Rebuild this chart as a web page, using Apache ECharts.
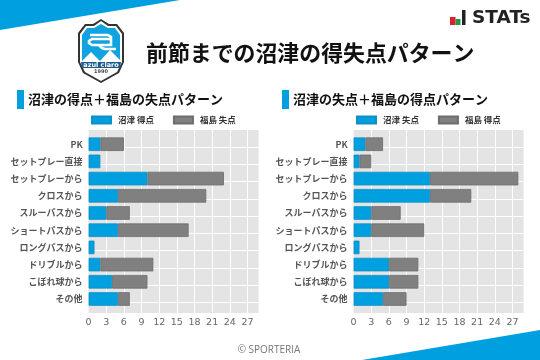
<!DOCTYPE html>
<html>
<head>
<meta charset="utf-8">
<style>
  html, body { margin: 0; padding: 0; background: #fff; }
  #chart { width: 540px; height: 360px; }
</style>
<script src="https://cdn.jsdelivr.net/npm/echarts@6/dist/echarts.min.js"></script>
</head>
<body>
<div id="chart"></div>
<script>
const categories = ['PK', 'セットプレー直接', 'セットプレーから', 'クロスから', 'スルーパスから', 'ショートパスから', 'ロングパスから', 'ドリブルから', 'こぼれ球から', 'その他']
const xTicks = [0, 3, 6, 9, 12, 15, 18, 21, 24, 27]

const numazuScored = [2, 2, 10, 5, 3, 5, 1, 2, 4, 5]
const fukushimaConceded = [4, null, 13, 15, 4, 12, null, 9, 6, 2]
const numazuConceded = [2, 1, 13, 13, 3, 3, 1, 6, 6, 5]
const fukushimaScored = [3, 2, 15, 7, 5, 9, null, 5, 5, 4]

const BLUE = '#009fe0'
const GRAY = '#808080'
const JP = '"Noto Sans CJK JP"'
const X_MAX = 28.9
const panels = [
  {left: 88.6, names: ['沼津 得点', '福島 失点'], values: [numazuScored, fukushimaConceded], legendLeft: 91},
  {left: 353.6, names: ['沼津 失点', '福島 得点'], values: [numazuConceded, fukushimaScored], legendLeft: 356}
]

const grids = [], xAxes = [], yAxes = [], series = [], legends = []

panels.forEach((p, i) => {
  // back grid: grey panel, white lines and the x labels
  grids.push({left: p.left, top: 130, width: 170, height: 183, show: true, backgroundColor: '#e4e4e4', borderWidth: 0})
  // front grid: the ten category bands
  grids.push({left: p.left, top: 135.6, width: 170, height: 172})
  xAxes.push({
    type: 'value', gridIndex: i * 2, min: 0, max: X_MAX, interval: 3,
    axisLine: {show: false}, axisTick: {show: false},
    axisLabel: {
      color: '#666', fontSize: 9.5, fontFamily: '"DejaVu Sans"', margin: 5, hideOverlap: false,
      formatter: v => xTicks.includes(v) ? String(v) : ''
    },
    splitLine: {show: true, showMinLine: false, showMaxLine: false, lineStyle: {color: '#fff', width: 1}}
  })
  xAxes.push({type: 'value', gridIndex: i * 2 + 1, min: 0, max: X_MAX, show: false, splitLine: {show: false}})
  yAxes.push({
    type: 'value', gridIndex: i * 2, min: -0.81, max: 9.81, interval: 1, inverse: true,
    axisLine: {show: false}, axisTick: {show: false}, axisLabel: {show: false},
    splitLine: {show: true, showMinLine: false, showMaxLine: false, lineStyle: {color: '#fff', width: 1}}
  })
  yAxes.push({
    type: 'category', gridIndex: i * 2 + 1, data: categories, inverse: true,
    axisLine: {show: false}, axisTick: {show: false}, splitLine: {show: false},
    axisLabel: {color: '#555', fontSize: 9, fontWeight: 'bold', fontFamily: JP, margin: 6, interval: 0, padding: [2, 0, 0, 0]}
  })
  p.names.forEach((name, k) => {
    series.push({
      name, type: 'bar', stack: 'p' + i, barWidth: 13.6,
      xAxisIndex: i * 2 + 1, yAxisIndex: i * 2 + 1,
      data: p.values[k],
      itemStyle: {color: k ? GRAY : BLUE, borderColor: k ? '#6c6c6c' : '#0f8fc4', borderWidth: 0.8}
    })
  })
  legends.push({
    left: p.legendLeft, top: 115.5, itemWidth: 19, itemHeight: 7, itemGap: 19, padding: 0,
    icon: 'rect', data: p.names,
    textStyle: {color: '#333', fontSize: 8.5, fontWeight: 'bold', fontFamily: JP, padding: [0, 0, 0, 2]}
  })
})

function subtitle(x, text) {
  return [
    {type: 'rect', shape: {x, y: 90, width: 7, height: 19}, style: {fill: BLUE}},
    {type: 'text', style: {x: x + 11, y: 99.5, text, fill: '#111', font: 'bold 13px ' + JP, textVerticalAlign: 'middle'}}
  ]
}

const logo = [
  {type: 'polygon', shape: {points: [[101,19],[109,24],[117,24],[124,33],[124,62],[119,73],[101,83],[83,73],[78,62],[78,33],[85,24],[93,24]]}, style: {fill: '#333'}},
  {type: 'polygon', shape: {points: [[101,21],[108,26],[116,26],[122,34],[122,62],[117,72],[101,81],[85,72],[80,62],[80,34],[86,26],[94,26]]}, style: {fill: '#fff'}},
  {type: 'polygon', shape: {points: [[101,24],[108,28],[115,28],[120,35],[120,61],[82,61],[82,35],[87,28],[94,28]]}, style: {fill: '#10a3e0'}},
  // mountains
  {type: 'polygon', shape: {points: [[82,62],[82,61],[91,52],[100,61],[110,50],[120,60],[120,62]]}, style: {fill: '#fff'}},
  {type: 'polygon', shape: {points: [[81,62],[121,62],[120,68],[82,68]]}, style: {fill: '#1d5b8f'}},
  {type: 'text', style: {x: 101, y: 65, text: 'azul claro', fill: '#fff', font: 'bold 6.5px "DejaVu Sans"', textAlign: 'center', textVerticalAlign: 'middle'}},
  {type: 'text', style: {x: 101, y: 72, text: '1990', fill: '#444', font: 'bold 5px "DejaVu Sans"', textAlign: 'center', textVerticalAlign: 'middle'}},
  // stylised "a"
  {type: 'polyline', shape: {points: [[90,35],[108,35],[111,37],[111,45],[92,45],[89,43],[89,41],[92,39],[111,39]]}, style: {fill: 'none', stroke: '#fff', lineWidth: 2.6}},
  {type: 'polyline', shape: {points: [[99,45],[102,48],[105,49],[116,49]]}, style: {fill: 'none', stroke: '#fff', lineWidth: 2.6}}
]

const graphics = [
  {type: 'polygon', shape: {points: [[0,0],[180,0],[0,30]]}, style: {fill: BLUE}},
  {type: 'polygon', shape: {points: [[362,360],[540,330],[540,360]]}, style: {fill: BLUE}},
  ...logo,
  {type: 'text', style: {x: 146, y: 53, text: '前節までの沼津の得失点パターン', fill: '#111', font: 'bold 21.9px ' + JP, textVerticalAlign: 'middle'}},
  ...subtitle(17, '沼津の得点＋福島の失点パターン'),
  ...subtitle(282, '沼津の失点＋福島の得点パターン'),
  // STATs mark
  {type: 'rect', shape: {x: 450, y: 17, width: 5.5, height: 8}, style: {fill: '#e0202a'}},
  {type: 'rect', shape: {x: 455.5, y: 19, width: 5, height: 6}, style: {fill: '#1f9a4a'}},
  {type: 'rect', shape: {x: 462, y: 10, width: 3.5, height: 15}, style: {fill: '#222'}},
  {type: 'text', style: {x: 472, y: 18, text: 'STATs', fill: '#222', font: 'bold 18.5px "DejaVu Sans"', textVerticalAlign: 'middle'}},
  {type: 'text', style: {x: 269, y: 350, text: '© SPORTERIA', fill: '#777', font: '10px "Open Sans"', textAlign: 'center', textVerticalAlign: 'middle'}}
]

const chart = echarts.init(document.getElementById('chart'), null, {renderer: 'canvas'})
chart.setOption({
  animation: false,
  backgroundColor: '#fff',
  grid: grids,
  xAxis: xAxes,
  yAxis: yAxes,
  legend: legends,
  series,
  graphic: {elements: graphics}
})
</script>
</body>
</html>
